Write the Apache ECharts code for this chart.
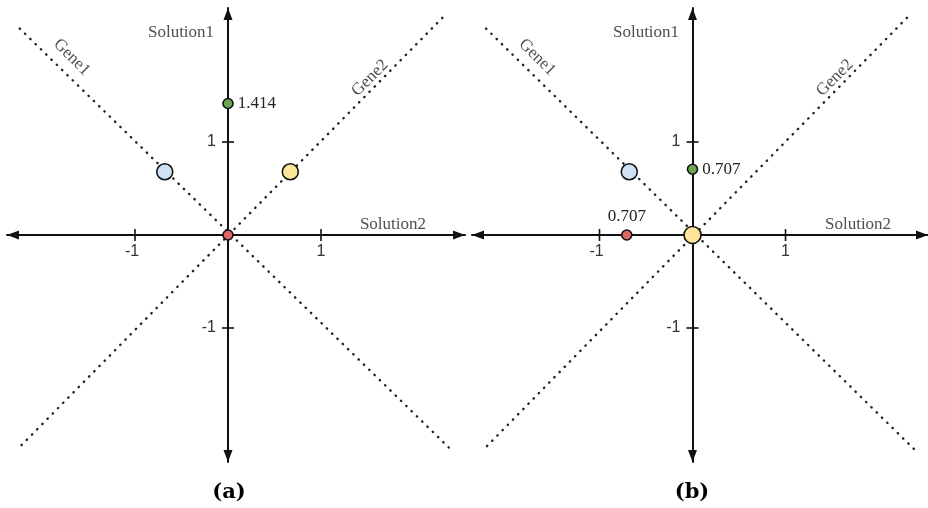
<!DOCTYPE html>
<html>
<head>
<meta charset="utf-8">
<script src="https://cdn.jsdelivr.net/npm/echarts@6/dist/echarts.min.js"></script>
<style>
  html, body { margin: 0; padding: 0; background: #fff; }
  #chart { width: 928px; height: 508px; }
</style>
</head>
<body>
<div id="chart"></div>
<script>
// Tick positions shared by both axes of both panels
const tickValues = [-1, 1];

// Panel (a): point coordinates [Solution2, Solution1]
const aGene1 = [-0.68, 0.68];
const aGene2 = [0.67, 0.68];
const aSolution1 = [0, 1.414];
const aSolution2 = [0, 0];

// Panel (b): point coordinates [Solution2, Solution1]
const bGene1 = [-0.68, 0.68];
const bGene2 = [0, 0];
const bSolution1 = [0, 0.707];
const bSolution2 = [-0.707, 0];

// Value labels
const aSolution1Label = '1.414';
const bSolution1Label = '0.707';
const bSolution2Label = '0.707';

// Dotted gene directions (end points)
const aGene1Line = [[-2.24, 2.22], [2.39, -2.30]];
const aGene2Line = [[-2.22, -2.26], [2.31, 2.34]];
const bGene1Line = [[-2.22, 2.22], [2.39, -2.31]];
const bGene2Line = [[-2.21, -2.27], [2.32, 2.35]];

// Axis / direction names and where they sit
const axisNames = ['Solution1', 'Solution2', 'Gene1', 'Gene2'];
const aNameAnchors = [[-0.505, 2.18], [1.774, 0.108], [-1.68, 1.91], [1.527, 1.688]];
const bNameAnchors = [[-0.50, 2.18], [1.78, 0.108], [-1.67, 1.91], [1.53, 1.69]];

const captions = ['(a)', '(b)'];

const COLORS = { gene1: '#cfe2f3', gene2: '#ffe599', sol1: '#6aa84f', sol2: '#e06666' };
const SERIF = '"Liberation Serif", "Times New Roman", serif';
const SANS = '"Liberation Sans", Arial, sans-serif';
const TEXT = '#222';

const chart = echarts.init(document.getElementById('chart'), null, { renderer: 'canvas' });

function makeAxis(min, max, gridIndex) {
  return {
    type: 'value', gridIndex, min, max,
    axisLine: {
      onZero: true,
      symbol: ['triangle', 'triangle'],
      symbolSize: [9, 12],
      symbolOffset: [6, -6],
      lineStyle: { color: '#111', width: 2 }
    },
    axisTick: { show: false },
    splitLine: { show: false },
    axisLabel: { show: false }
  };
}

// Cross-bar ticks with their numeric labels, placed through the axis scales
function tickSeries(i) {
  return {
    type: 'custom', xAxisIndex: i, yAxisIndex: i, z: 4, silent: true,
    data: tickValues.map(v => [v, 0]).concat(tickValues.map(v => [0, v])),
    renderItem(params, api) {
      const vx = api.value(0), vy = api.value(1);
      const p = api.coord([vx, vy]);
      const half = 6;
      const onX = vy === 0;
      const value = onX ? vx : vy;
      const line = {
        type: 'line',
        shape: onX
          ? { x1: p[0], y1: p[1] - half, x2: p[0], y2: p[1] + half }
          : { x1: p[0] - half, y1: p[1], x2: p[0] + half, y2: p[1] },
        style: { stroke: '#111', lineWidth: 1.6 }
      };
      const text = {
        type: 'text',
        x: onX ? p[0] - (value < 0 ? 3 : 0) : p[0] - 12,
        y: onX ? p[1] + 9 : p[1],
        style: {
          text: String(value),
          fill: '#333',
          font: '16px ' + SANS,
          align: onX ? 'center' : 'right',
          verticalAlign: onX ? 'top' : 'middle'
        }
      };
      return { type: 'group', children: [line, text] };
    }
  };
}

function dottedSeries(i, line) {
  return {
    type: 'line', xAxisIndex: i, yAxisIndex: i, z: 1, silent: true,
    symbol: 'none', data: line,
    lineStyle: { color: '#222', width: 2.4, type: [0.4, 7], cap: 'round' }
  };
}

function pointSeries(i, name, pt, color, size, label) {
  return {
    type: 'scatter', name, xAxisIndex: i, yAxisIndex: i, z: 5, silent: true,
    symbolSize: size,
    data: [pt],
    itemStyle: { color, borderColor: '#111', borderWidth: 1.6, opacity: 1 },
    label: label || { show: false }
  };
}

function namesSeries(i, anchors) {
  const rot = [0, 0, -45, 45];
  return {
    type: 'scatter', xAxisIndex: i, yAxisIndex: i, z: 6, silent: true,
    symbolSize: 0,
    data: anchors.map((p, k) => ({
      value: p,
      label: {
        show: true, position: 'inside', formatter: axisNames[k],
        rotate: rot[k], color: TEXT, fontFamily: SERIF, fontSize: 17
      }
    }))
  };
}

const valueLabel = (text, position) => ({
  show: true, position, distance: 4, formatter: text,
  color: TEXT, fontFamily: SERIF, fontSize: 17
});

const option = {
  animation: false,
  backgroundColor: '#fff',
  grid: [
    { left: 7, top: 8, width: 458, height: 454, outerBoundsMode: 'none', containLabel: false },
    { left: 472, top: 8, width: 456, height: 454, outerBoundsMode: 'none', containLabel: false }
  ],
  xAxis: [makeAxis(-2.3763, 2.5484, 0), makeAxis(-2.371, 2.532, 1)],
  yAxis: [makeAxis(-2.4409, 2.4409, 0), makeAxis(-2.4409, 2.4409, 1)],
  series: [
    dottedSeries(0, aGene1Line),
    dottedSeries(0, aGene2Line),
    dottedSeries(1, bGene1Line),
    dottedSeries(1, bGene2Line),
    tickSeries(0),
    tickSeries(1),
    pointSeries(0, 'Gene1', aGene1, COLORS.gene1, 16),
    pointSeries(0, 'Gene2', aGene2, COLORS.gene2, 16),
    pointSeries(0, 'Solution1', aSolution1, COLORS.sol1, 10, valueLabel(aSolution1Label, 'right')),
    pointSeries(0, 'Solution2', aSolution2, COLORS.sol2, 10),
    pointSeries(1, 'Gene1', bGene1, COLORS.gene1, 16),
    pointSeries(1, 'Gene2', bGene2, COLORS.gene2, 17),
    pointSeries(1, 'Solution1', bSolution1, COLORS.sol1, 10, valueLabel(bSolution1Label, 'right')),
    pointSeries(1, 'Solution2', bSolution2, COLORS.sol2, 10, valueLabel(bSolution2Label, 'top')),
    namesSeries(0, aNameAnchors),
    namesSeries(1, bNameAnchors)
  ],
  graphic: captions.map((t, k) => ({
    type: 'text',
    x: k === 0 ? 229 : 692,
    y: 493,
    style: {
      text: t, fill: '#000', align: 'center', verticalAlign: 'middle',
      font: 'bold 21px "DejaVu Serif", serif'
    }
  }))
};

chart.setOption(option);
</script>
</body>
</html>
